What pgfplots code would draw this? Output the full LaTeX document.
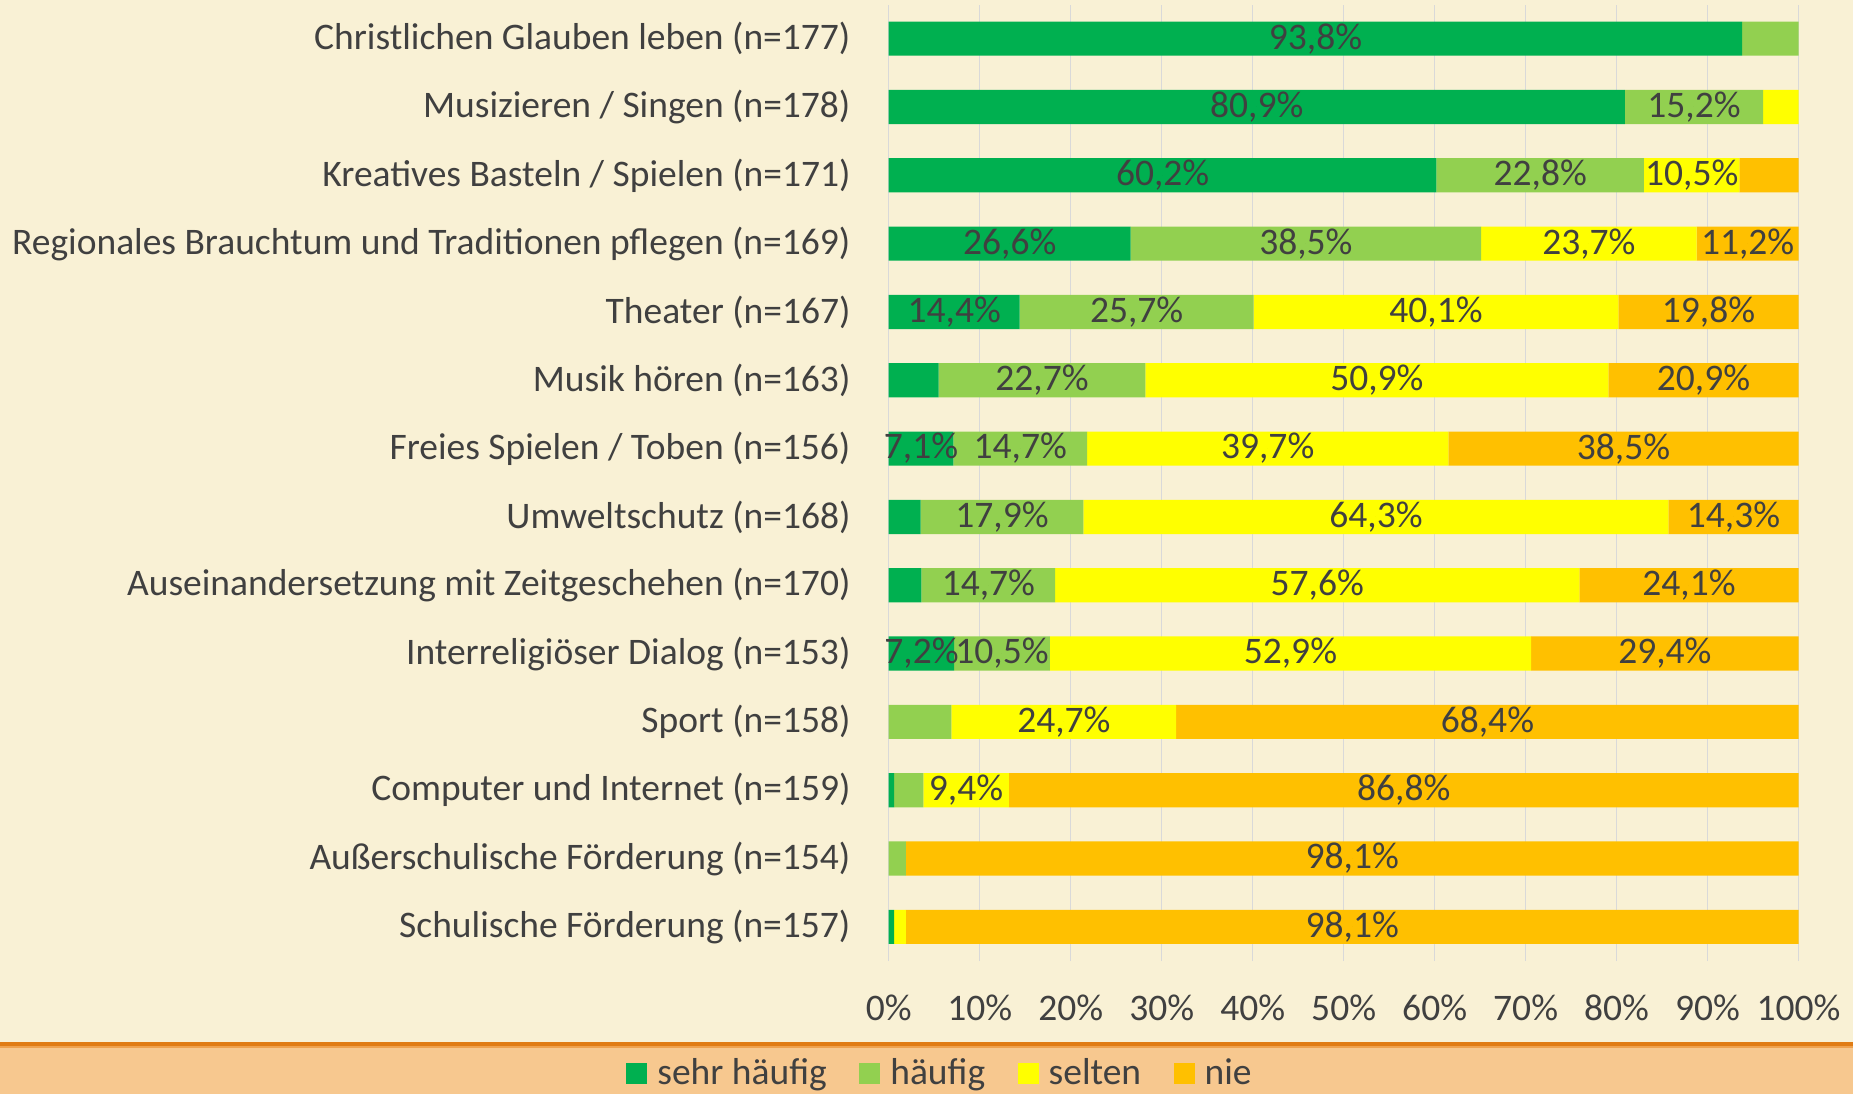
\documentclass[border=0pt]{standalone}
\usepackage{pgfplots}
\pgfplotsset{compat=1.18}
\usepackage{pgfplotstable}
\usepackage{fontspec}
\setmainfont{Carlito}
\definecolor{bg}{HTML}{F9F1D5}
\definecolor{band}{HTML}{F7C88F}
\definecolor{bandline}{HTML}{E07C15}
\definecolor{bandline2}{HTML}{EFA24F}
\definecolor{dg}{HTML}{00B050}
\definecolor{lg}{HTML}{92D050}
\definecolor{ye}{HTML}{FFFF00}
\definecolor{og}{HTML}{FFC000}
\definecolor{txt}{HTML}{404040}
\definecolor{gridc}{HTML}{D9D9D9}

\pgfplotstableread{
y sh h s n
14 93.8 6.2 0 0
13 80.9 15.2 3.9 0
12 60.2 22.8 10.5 6.5
11 26.6 38.5 23.7 11.2
10 14.4 25.7 40.1 19.8
9 5.5 22.7 50.9 20.9
8 7.1 14.7 39.7 38.5
7 3.5 17.9 64.3 14.3
6 3.6 14.7 57.6 24.1
5 7.2 10.5 52.9 29.4
4 0 6.9 24.7 68.4
3 0.6 3.2 9.4 86.8
2 0 1.9 0 98.1
1 0.6 0 1.3 98.1
}\datatable

\pgfplotstableread{
x y lab
46.9 14 93,8
40.45 13 80,9
88.5 13 15,2
30.1 12 60,2
71.6 12 22,8
88.25 12 10,5
13.3 11 26,6
45.85 11 38,5
76.95 11 23,7
94.4 11 11,2
7.2 10 14,4
27.25 10 25,7
60.15 10 40,1
90.1 10 19,8
16.85 9 22,7
53.65 9 50,9
89.55 9 20,9
3.55 8 7,1
14.45 8 14,7
41.65 8 39,7
80.75 8 38,5
12.45 7 17,9
53.55 7 64,3
92.85 7 14,3
10.95 6 14,7
47.1 6 57,6
87.95 6 24,1
3.6 5 7,2
12.45 5 10,5
44.15 5 52,9
85.3 5 29,4
19.25 4 24,7
65.8 4 68,4
8.5 3 9,4
56.6 3 86,8
50.95 2 98,1
50.95 1 98,1
}\labeltable

\newcommand{\lbl}{\fontsize{15}{18}\selectfont}

\begin{document}
\begin{tikzpicture}
\fill[bg] (0,0) rectangle (741.2pt,437.6pt);
\fill[band] (0,0) rectangle (741.2pt,18.4pt);
\fill[bandline2] (0,18.4pt) rectangle (741.2pt,19.2pt);
\fill[bandline] (0,19.2pt) rectangle (741.2pt,20.8pt);

\begin{axis}[
  at={(355.48pt,53.2pt)}, anchor=south west,
  scale only axis, width=363.96pt, height=382.6pt,
  xbar stacked, bar width=0.5,
  xmin=0, xmax=100, ymin=0.5, ymax=14.5,
  axis line style={draw=none},
  tick style={draw=none},
  xmajorgrids, grid style={gridc, line width=0.6pt},
  xtick={0,10,...,100},
  xticklabels={0\%,10\%,20\%,30\%,40\%,50\%,60\%,70\%,80\%,90\%,100\%},
  ytick={1,...,14},
  yticklabels={
    Schulische Förderung (n=157),
    Außerschulische Förderung (n=154),
    Computer und Internet (n=159),
    Sport (n=158),
    Interreligiöser Dialog (n=153),
    Auseinandersetzung mit Zeitgeschehen (n=170),
    Umweltschutz (n=168),
    Freies Spielen / Toben (n=156),
    Musik hören (n=163),
    Theater (n=167),
    Regionales Brauchtum und Traditionen pflegen (n=169),
    Kreatives Basteln / Spielen (n=171),
    Musizieren / Singen (n=178),
    Christlichen Glauben leben (n=177)},
  tick label style={font=\lbl, text=txt},
  xticklabel style={anchor=base, yshift=-23.6pt},
  yticklabel style={anchor=east, inner xsep=0pt, xshift=-15.1pt},
  clip=false,
  legend style={at={(0.0553,-0.1172)}, anchor=center, draw=none, fill=none,
    font=\lbl, text=txt, legend columns=-1,
    nodes={inner sep=0pt},
    /tikz/every odd column/.append style={column sep=4pt},
    /tikz/every even column/.append style={column sep=13pt}},
  legend image code/.code={\fill[#1] (0pt,-4.2pt) rectangle (8.4pt,4.2pt);},
]
\addplot[fill=dg, draw=none] table[x=sh, y=y] \datatable;
\addplot[fill=lg, draw=none] table[x=h, y=y] \datatable;
\addplot[fill=ye, draw=none] table[x=s, y=y] \datatable;
\addplot[fill=og, draw=none] table[x=n, y=y] \datatable;
\legend{sehr häufig, häufig, selten, nie}
\end{axis}

\begin{axis}[
  at={(355.48pt,53.2pt)}, anchor=south west,
  scale only axis, width=363.96pt, height=382.6pt,
  xmin=0, xmax=100, ymin=0.5, ymax=14.5,
  hide axis, clip=false]
\addplot[only marks, mark=*, mark size=0pt, mark options={draw=none, fill=none},
  point meta=explicit symbolic,
  nodes near coords={\pgfplotspointmeta\%},
  every node near coord/.append style={anchor=center, font=\lbl, text=txt, inner sep=0pt}]
  table[x=x, y=y, meta=lab] \labeltable;
\end{axis}

\pgfresetboundingbox
\path[use as bounding box] (0,0) rectangle (741.2pt,437.6pt);
\end{tikzpicture}
\end{document}
